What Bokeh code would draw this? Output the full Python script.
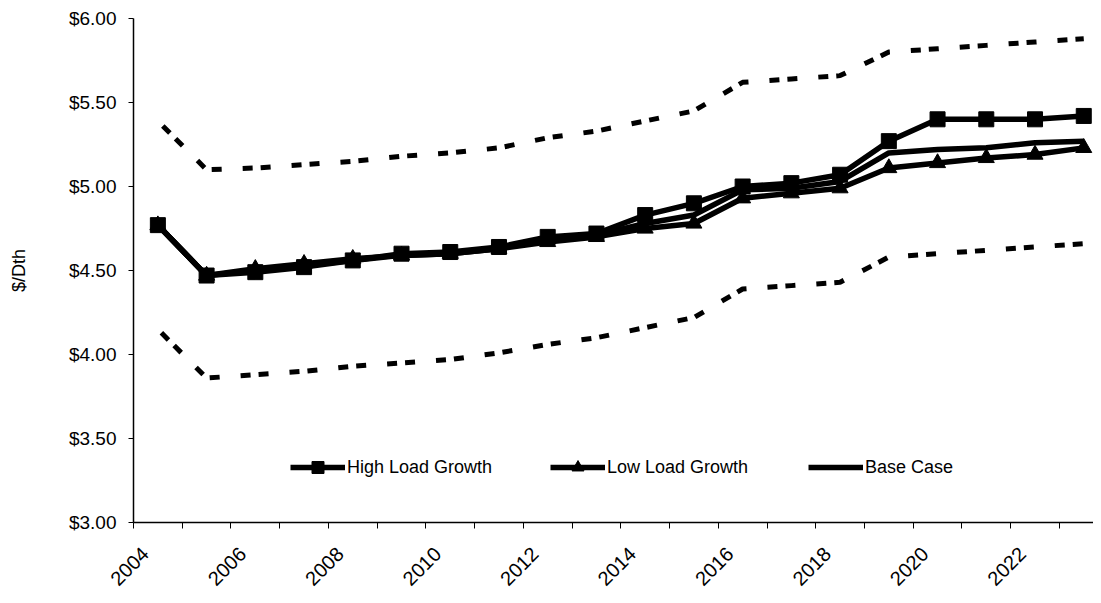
import math
from bokeh.plotting import figure
from bokeh.models import FixedTicker, Range1d, Legend, LegendItem
from bokeh.embed import file_html
from bokeh.resources import INLINE

years = list(range(2004, 2024))
high_load = [4.77, 4.47, 4.49, 4.52, 4.56, 4.60, 4.61, 4.64, 4.70, 4.72,
             4.83, 4.90, 5.00, 5.02, 5.07, 5.27, 5.40, 5.40, 5.40, 5.42]
low_load = [4.77, 4.47, 4.51, 4.54, 4.57, 4.59, 4.60, 4.63, 4.67, 4.70,
            4.75, 4.78, 4.93, 4.96, 4.99, 5.11, 5.14, 5.17, 5.19, 5.23]
base_case = [4.77, 4.47, 4.50, 4.53, 4.56, 4.59, 4.60, 4.63, 4.69, 4.71,
             4.78, 4.83, 4.98, 4.99, 5.03, 5.20, 5.22, 5.23, 5.26, 5.27]
upper_band = [5.39, 5.10, 5.11, 5.13, 5.15, 5.18, 5.20, 5.23, 5.29, 5.33,
              5.39, 5.45, 5.62, 5.64, 5.66, 5.80, 5.82, 5.84, 5.86, 5.88]
lower_band = [4.15, 3.86, 3.88, 3.90, 3.93, 3.95, 3.97, 4.01, 4.06, 4.10,
              4.16, 4.22, 4.39, 4.41, 4.43, 4.58, 4.60, 4.62, 4.64, 4.66]

x_tick_years = list(range(2004, 2024, 2))
x_tick_labels = [str(y) for y in x_tick_years]
y_ticks = [3.0, 3.5, 4.0, 4.5, 5.0, 5.5, 6.0]
y_tick_labels = ["$3.00", "$3.50", "$4.00", "$4.50", "$5.00", "$5.50", "$6.00"]

FONT = "Liberation Sans"
LABEL_SHIFT = 0.26  # small leftward nudge of the rotated year labels

p = figure(width=1093, height=595, output_backend="svg", toolbar_location=None,
           x_range=Range1d(2003.5, 2023.2), y_range=Range1d(3.0, 6.0),
           min_border_left=133, min_border_right=0, min_border_top=18, min_border_bottom=73)
p.outline_line_color = None
p.xgrid.visible = False
p.ygrid.visible = False
p.background_fill_color = "white"

# Axes
label_pos = [y - LABEL_SHIFT for y in x_tick_years]
xa = p.xaxis[0]
xa.ticker = FixedTicker(ticks=label_pos, minor_ticks=[2003.5 + i for i in range(21)])
xa.major_label_overrides = {t: l for t, l in zip(label_pos, x_tick_labels)}
xa.major_label_orientation = math.pi / 4
xa.major_tick_out = 0
xa.major_tick_in = 0
xa.minor_tick_out = 6
xa.minor_tick_in = 0
xa.minor_tick_line_color = "black"
xa.axis_line_color = "black"
xa.axis_line_width = 1.5
xa.major_label_text_font = FONT
xa.major_label_text_font_size = "20px"
xa.major_label_text_color = "black"
xa.major_label_standoff = 22

ya = p.yaxis[0]
ya.ticker = FixedTicker(ticks=y_ticks)
ya.major_label_overrides = {v: l for v, l in zip(y_ticks, y_tick_labels)}
ya.minor_tick_line_color = None
ya.major_tick_out = 5
ya.major_tick_in = 0
ya.axis_line_color = "black"
ya.axis_line_width = 1.5
ya.major_label_text_font = FONT
ya.major_label_text_font_size = "19px"
ya.major_label_text_color = "black"
ya.major_label_standoff = 12
ya.axis_label = "$/Dth"
ya.axis_label_text_font = FONT
ya.axis_label_text_font_size = "18px"
ya.axis_label_text_font_style = "normal"
ya.axis_label_text_color = "black"
ya.axis_label_standoff = 37

# Dashed bands
p.line(years, upper_band, line_color="black", line_width=5, line_dash="10 21 10 8", line_dash_offset=24)
p.line(years, lower_band, line_color="black", line_width=5, line_dash="10 21 10 8", line_dash_offset=26)

# Series
base_r = p.line(years, base_case, line_color="black", line_width=5.5)
low_l = p.line(years, low_load, line_color="black", line_width=5.5)
low_m = p.scatter(years, low_load, marker="triangle", size=16, color="black")
high_l = p.line(years, high_load, line_color="black", line_width=5.5)
high_m = p.scatter(years, high_load, marker="square", size=15, color="black")

def make_legend(label, renderers, x):
    lg = Legend(items=[LegendItem(label=label, renderers=renderers)],
                location=(x, 40), orientation="horizontal",
                background_fill_alpha=0, border_line_color=None,
                padding=0, margin=0, spacing=0,
                glyph_width=55, glyph_height=30, label_height=30,
                label_standoff=2, label_text_font=FONT,
                label_text_font_size="18px", label_text_color="black")
    p.add_layout(lg)

make_legend("High Load Growth", [high_l, high_m], 157)
make_legend("Low Load Growth", [low_l, low_m], 417)
make_legend("Base Case", [base_r], 675)

open("out.html", "w").write(file_html(p, INLINE))
